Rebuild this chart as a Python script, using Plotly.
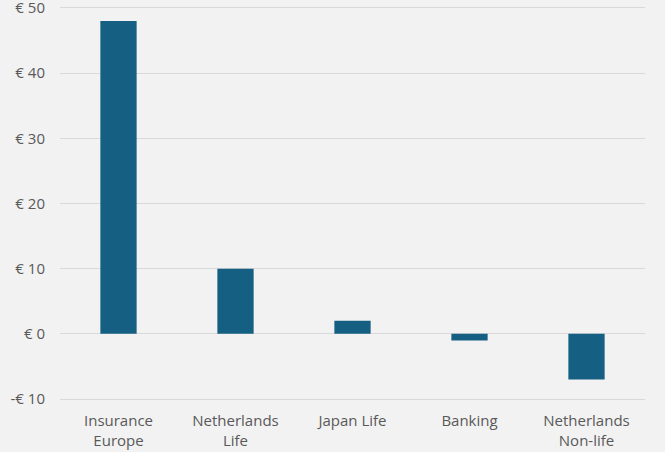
import plotly.graph_objects as go

# segments et valeurs (en millions d'euros)
segments = ["Insurance<br>Europe", "Netherlands<br>Life", "Japan Life", "Banking", "Netherlands<br>Non-life"]
valeurs = [48, 10, 2, -1, -7]
ticks_y = [-10, 0, 10, 20, 30, 40, 50]
labels_y = ["-€ 10", "€ 0", "€ 10", "€ 20", "€ 30", "€ 40", "€ 50"]

fig = go.Figure()
fig.add_trace(go.Bar(x=segments, y=valeurs, marker_color="#156082",
                     marker_line_width=0, width=0.31))

fig.update_layout(
    width=665, height=452,
    margin=dict(l=60, r=20, t=6, b=51),
    paper_bgcolor="#f2f2f2", plot_bgcolor="#f2f2f2",
    font=dict(family="Open Sans", size=15, color="#595959"),
    showlegend=False,
)
fig.update_yaxes(range=[-10.3, 50.3], tickvals=ticks_y, ticktext=labels_y,
                 showgrid=True, gridcolor="#d9d9d9", gridwidth=1,
                 zeroline=False, ticklabelstandoff=14, showline=False,
                 automargin=False, ticklabeloverflow="allow")
fig.update_xaxes(showgrid=False, showline=False, ticklabelstandoff=9,
                 automargin=False)

# la page a une marge par défaut de 8px, on la retire
fig.write_html("out.html", config={"displayModeBar": False},
               post_script="document.body.style.margin='0';")
